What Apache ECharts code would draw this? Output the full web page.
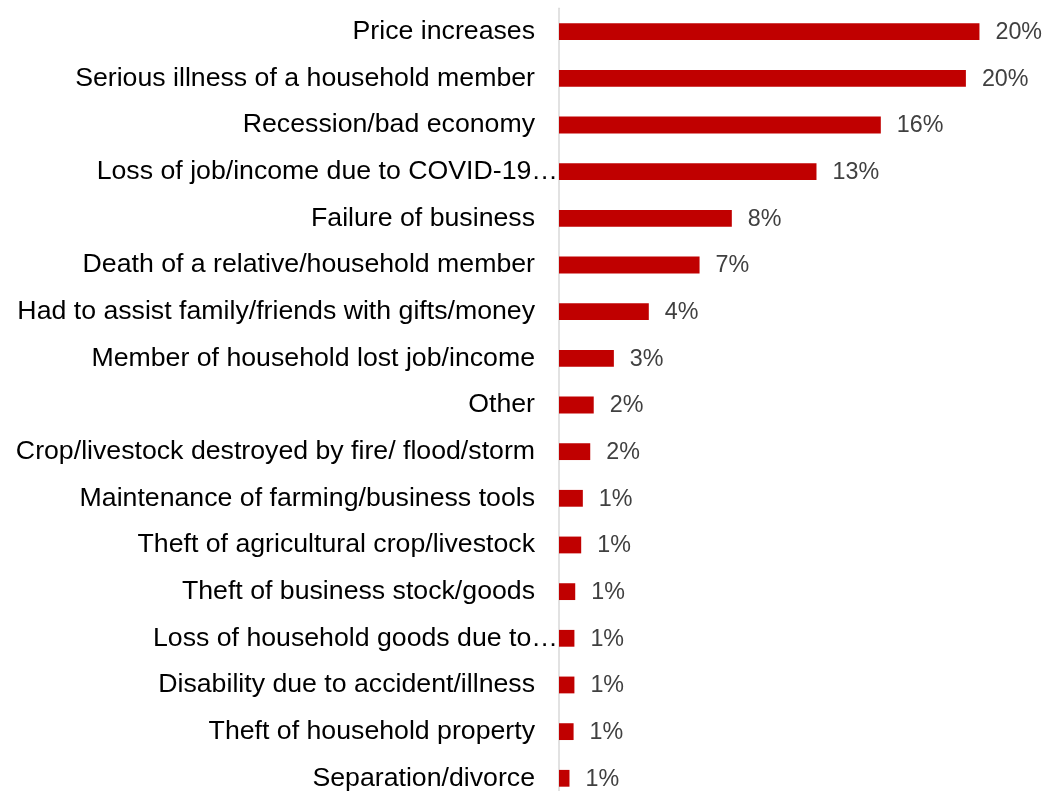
<!DOCTYPE html>
<html>
<head>
<meta charset="utf-8">
<script src="https://cdn.jsdelivr.net/npm/echarts@6/dist/echarts.min.js"></script>
<style>
  html, body { margin: 0; padding: 0; background: #ffffff; overflow: hidden; }
  /* the last row runs slightly past the bottom edge of the page */
  #chart { width: 1048px; height: 802px; }
</style>
</head>
<body>
<div id="chart"></div>
<script>
// Shocks experienced by households (share of respondents, %)
const categories = [
  'Price increases',
  'Serious illness of a household member',
  'Recession/bad economy',
  'Loss of job/income due to COVID-19…',
  'Failure of business',
  'Death of a relative/household member',
  'Had to assist family/friends with gifts/money',
  'Member of household lost job/income',
  'Other',
  'Crop/livestock destroyed by fire/ flood/storm',
  'Maintenance of farming/business tools',
  'Theft of agricultural crop/livestock',
  'Theft of business stock/goods',
  'Loss of household goods due to…',
  'Disability due to accident/illness',
  'Theft of household property',
  'Separation/divorce'
];

const shares = [
  20.46, 19.80, 15.66, 12.53, 8.41, 6.84, 4.37, 2.67, 1.69,
  1.52, 1.16, 1.08, 0.79, 0.75, 0.75, 0.71, 0.51
];

const FONT = '"Liberation Sans", Arial, Helvetica, sans-serif';

const chart = echarts.init(document.getElementById('chart'), null, { renderer: 'canvas' });

chart.setOption({
  animation: false,
  backgroundColor: '#ffffff',
  grid: { left: 559, top: 8.33, width: 472.65, height: 793.3, containLabel: false },
  xAxis: {
    type: 'value',
    min: 0,
    max: 23,
    show: false,
    splitLine: { show: false }
  },
  yAxis: {
    type: 'category',
    data: categories,
    inverse: true,
    axisLine: { show: true, lineStyle: { color: '#d9d9d9', width: 1.5 } },
    axisTick: { show: false },
    axisLabel: {
      margin: 1,
      interval: 0,
      formatter: function (v) {
        return v.endsWith('…') ? '{e|' + v + '}' : '{n|' + v + '}';
      },
      rich: {
        n: { fontFamily: FONT, fontSize: 26.7, color: '#000000', padding: [0, 23, 0, 0] },
        e: { fontFamily: FONT, fontSize: 26.7, color: '#000000' }
      }
    }
  },
  series: [{
    type: 'bar',
    data: shares,
    barCategoryGap: '64%',
    itemStyle: { color: '#C00000' },
    label: {
      show: true,
      position: 'right',
      distance: 16,
      color: '#404040',
      fontFamily: FONT,
      fontSize: 23.3,
      offset: [0, 1],
      formatter: function (p) { return Math.round(p.value) + '%'; }
    }
  }]
});
</script>
</body>
</html>
